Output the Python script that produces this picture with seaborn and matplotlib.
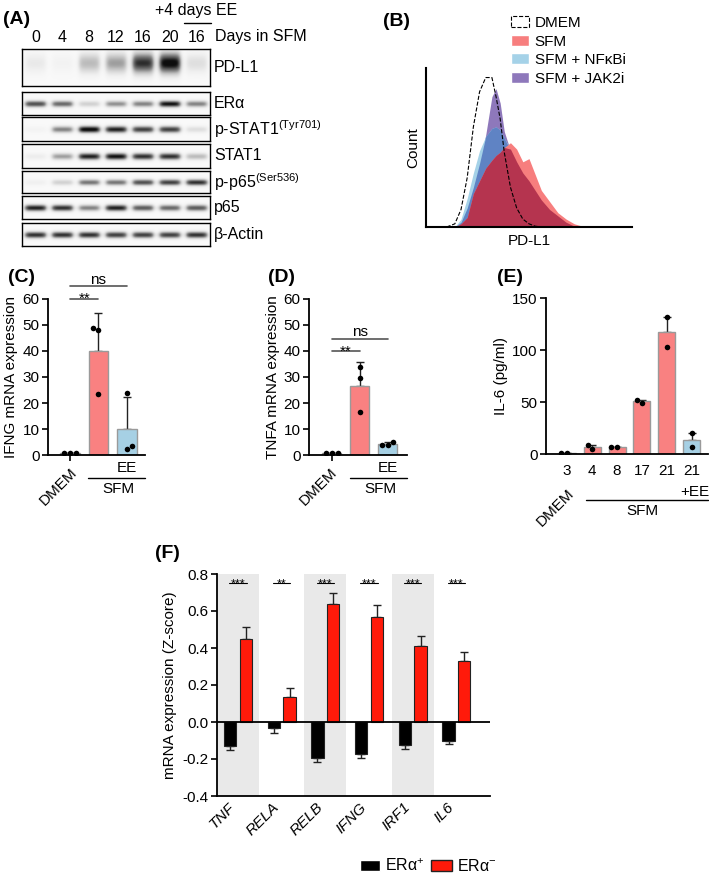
import numpy as np
import pandas as pd
import matplotlib
matplotlib.use("Agg")
import matplotlib.pyplot as plt
import seaborn as sns
from matplotlib.patches import Patch

sns.set_style("ticks")
plt.rcParams["font.family"] = ["Liberation Sans", "DejaVu Sans"]
plt.rcParams["mathtext.fontset"] = "custom"
plt.rcParams["mathtext.rm"] = "Liberation Sans"
plt.rcParams["mathtext.it"] = "Liberation Sans:italic"
plt.rcParams["mathtext.bf"] = "Liberation Sans:bold"
plt.rcParams["text.color"] = "black"
plt.rcParams["axes.labelcolor"] = "black"
plt.rcParams["xtick.color"] = "black"
plt.rcParams["ytick.color"] = "black"
plt.rcParams["axes.edgecolor"] = "black"

# (A) western blot: band darkness per lane (0 = none, 1 = black)
lane_labels = ["0", "4", "8", "12", "16", "20", "16"]
blot_names = ["PD-L1", "ERα", r"p-STAT1$^{\mathrm{(Tyr701)}}$", "STAT1",
              r"p-p65$^{\mathrm{(Ser536)}}$", "p65", "β-Actin"]
pdl1_band = [0.12, 0.06, 0.35, 0.45, 0.85, 1.0, 0.18]
era_band = [0.75, 0.65, 0.25, 0.5, 0.55, 0.95, 0.55]
pstat1_band = [0.05, 0.55, 1.0, 0.9, 0.8, 0.8, 0.18]
stat1_band = [0.1, 0.45, 0.9, 0.95, 0.85, 0.85, 0.35]
pp65_band = [0.08, 0.25, 0.6, 0.6, 0.75, 0.8, 0.85]
p65_band = [0.9, 0.85, 0.55, 0.9, 0.7, 0.65, 0.7]
actin_band = [0.85, 0.85, 0.85, 0.8, 0.8, 0.8, 0.85]

# (B) flow histograms, read on a common PD-L1 grid (relative count)
flow_x = [10, 14, 17, 20, 23, 26, 29, 32, 34, 36, 38, 41, 44, 47, 50, 53, 56, 60, 64, 68, 72, 76, 80]
flow_dmem = [0, 0.02, 0.11, 0.31, 0.63, 0.85, 0.94, 0.94, 0.82, 0.68, 0.47, 0.25, 0.12, 0.05, 0.02, 0.005, 0, 0, 0, 0, 0, 0, 0]
flow_jak2i = [0, 0, 0.03, 0.12, 0.25, 0.40, 0.58, 0.82, 0.87, 0.78, 0.60, 0.48, 0.40, 0.32, 0.25, 0.19, 0.14, 0.08, 0.04, 0.015, 0, 0, 0]
flow_nfkbi = [0, 0, 0.05, 0.18, 0.34, 0.48, 0.57, 0.62, 0.63, 0.61, 0.56, 0.49, 0.41, 0.34, 0.29, 0.23, 0.17, 0.11, 0.07, 0.03, 0.005, 0, 0]
flow_sfm = [0, 0, 0.02, 0.06, 0.21, 0.29, 0.37, 0.42, 0.45, 0.47, 0.50, 0.53, 0.49, 0.41, 0.43, 0.33, 0.23, 0.16, 0.09, 0.05, 0.02, 0.005, 0]

# (C) IFNG mRNA expression, replicate points
ifng_dmem = [0.8, 0.8, 0.8]
ifng_sfm = [49, 48, 23.5]
ifng_ee = [24, 2.5, 3.5]

# (D) TNFA mRNA expression
tnfa_dmem = [0.8, 0.8, 0.8]
tnfa_sfm = [34, 29.5, 16.5]
tnfa_ee = [5, 4, 4]

# (E) IL-6 (pg/ml)
il6_groups = ["DMEM 3", "SFM 4", "SFM 8", "SFM 17", "SFM 21", "EE 21"]
il6_ticks = ["3", "4", "8", "17", "21", "21"]
il6_values = [[0.5, 0.5], [5, 9], [7, 7], [49.5, 51.5], [132, 103], [20, 7]]

# (F) Z-score expression
genes = ["TNF", "RELA", "RELB", "IFNG", "IRF1", "IL6"]
erpos_mean = [-0.13, -0.035, -0.195, -0.175, -0.125, -0.10]
erpos_err = [0.02, 0.025, 0.02, 0.02, 0.02, 0.02]
erneg_mean = [0.45, 0.135, 0.64, 0.57, 0.41, 0.33]
erneg_err = [0.065, 0.05, 0.06, 0.06, 0.055, 0.05]
stars = ["***", "**", "***", "***", "***", "***"]

W, H = 709, 876
fig = plt.figure(figsize=(W / 100, H / 100), dpi=100)


def px_axes(x0, y0, x1, y1):
    return fig.add_axes([x0 / W, 1 - y1 / H, (x1 - x0) / W, (y1 - y0) / H])


def ftext(x, y, s, **kw):
    return fig.text(x / W, 1 - y / H, s, **kw)


def fline(x0, x1, y, **kw):
    fig.add_artist(plt.Line2D([x0 / W, x1 / W], [1 - y / H, 1 - y / H],
                              transform=fig.transFigure, **kw))


# ---------------- (A) ----------------
ftext(3, 19, "(A)", fontsize=14, fontweight="bold", va="center")
blot_rows = [(49, 86), (92, 115), (117, 141), (144, 168), (171, 193), (196, 219), (223, 246)]
blot_levels = [pdl1_band, era_band, pstat1_band, stat1_band, pp65_band, p65_band, actin_band]
bx0, bx1 = 22, 210
lane_w = (bx1 - bx0) / 7
for (y0, y1), levels, name in zip(blot_rows, blot_levels, blot_names):
    ax = px_axes(bx0, y0, bx1, y1)
    h, w = int((y1 - y0) * 4), 7 * 60
    yy = np.linspace(0, 1, h)[:, None]
    xx = np.arange(w)
    img = np.full((h, w), 0.05)
    for i, a in enumerate(levels):
        xc = (i + 0.5) * 60
        prof_x = 1 / (1 + np.exp((np.abs(xx - xc) - 23) / 3))
        if name == "PD-L1":
            prof_y = np.exp(-((yy - 0.38) / 0.27) ** 2)
        else:
            prof_y = np.exp(-((yy - 0.52) / 0.14) ** 2)
        img += a * prof_y * prof_x[None, :]
    ax.imshow(np.clip(img, 0, 1), cmap="Greys", vmin=0, vmax=1.05,
              aspect="auto", interpolation="bilinear")
    ax.set_xticks([])
    ax.set_yticks([])
    for s in ax.spines.values():
        s.set_linewidth(1.0)
    ftext(214, (y0 + y1) / 2, name, fontsize=11.5, va="center")

for i, lab in enumerate(lane_labels):
    ftext(bx0 + (i + 0.5) * lane_w, 37, lab, fontsize=11.5, ha="center", va="center")
ftext(215, 37, "Days in SFM", fontsize=11.5, va="center")
ftext(196, 11, "+4 days EE", fontsize=11.5, ha="center", va="center")
fline(184, 211, 23, color="black", lw=1)

# ---------------- (B) ----------------
ftext(383, 21, "(B)", fontsize=14, fontweight="bold", va="center")
c_red, c_blue, c_purple = "#f77e7e", "#a5d2e8", "#8e78bb"
ax_b = px_axes(426, 68, 632, 227)
fx = np.array(flow_x)
jak, nfk, sfm = np.array(flow_jak2i), np.array(flow_nfkbi), np.array(flow_sfm)
ax_b.fill_between(fx, jak, color=c_purple, lw=0)
ax_b.fill_between(fx, nfk, color=c_blue, lw=0)
ax_b.fill_between(fx, np.minimum(nfk, jak), color="#5f83c4", lw=0)
ax_b.fill_between(fx, sfm, color=c_red, lw=0)
ax_b.fill_between(fx, np.minimum(sfm, np.maximum(nfk, jak)), color="#b5344f", lw=0)
sns.lineplot(x=flow_x, y=flow_dmem, color="black", linestyle="--", lw=0.8, ax=ax_b)
ax_b.set_xlim(0, 100)
ax_b.set_ylim(0, 1)
ax_b.set_xticks([])
ax_b.set_yticks([])
sns.despine(ax=ax_b)
for s in ["left", "bottom"]:
    ax_b.spines[s].set_linewidth(1.5)
ax_b.set_xlabel("PD-L1", fontsize=11, labelpad=5)
ax_b.set_ylabel("Count", fontsize=11, labelpad=4)
fig.legend(handles=[Patch(facecolor="none", edgecolor="black", linestyle="--", lw=0.8),
                    Patch(facecolor=c_red), Patch(facecolor=c_blue), Patch(facecolor=c_purple)],
           labels=["DMEM", "SFM", "SFM + NFκBi", "SFM + JAK2i"],
           loc="upper left", bbox_to_anchor=(511 / W, 1 - 16 / H), frameon=False,
           fontsize=11, handlelength=1.15, handleheight=0.7, handletextpad=0.4,
           labelspacing=0.3, borderpad=0, borderaxespad=0)

# ---------------- (C), (D), (E) bar panels ----------------
c_sfm, c_ee, c_dm = "#f98181", "#a6d0e4", "#dcdcdc"


def bar_panel(ax, df, order, colors, err):
    sns.barplot(data=df, x="group", y="value", hue="group", order=order, hue_order=order,
                palette=colors, saturation=1, errorbar=None, width=0.68, edgecolor="#9a9a9a",
                linewidth=1, legend=False, ax=ax, zorder=2)
    st = df.groupby("group")["value"].agg(["mean", "std", "sem"]).reindex(order)
    ax.errorbar(np.arange(len(order)), st["mean"], yerr=[np.zeros(len(order)), st[err]],
                fmt="none", ecolor="#222222", elinewidth=1, capsize=3, capthick=1, zorder=1)
    sns.swarmplot(data=df, x="group", y="value", order=order, color="black", size=4,
                  ax=ax, zorder=3)
    sns.despine(ax=ax)
    for s in ["left", "bottom"]:
        ax.spines[s].set_linewidth(1.3)
    ax.set_xlabel("")
    ax.tick_params(axis="y", labelsize=11, length=4, width=1.2, pad=2)


def expr_panel(ax, dm, sf, ee, ylabel):
    df = pd.DataFrame({"group": ["DMEM"] * len(dm) + ["SFM"] * len(sf) + ["EE"] * len(ee),
                       "value": dm + sf + ee})
    bar_panel(ax, df, ["DMEM", "SFM", "EE"], [c_dm, c_sfm, c_ee], "std")
    ax.set_ylim(0, 60)
    ax.set_yticks(range(0, 61, 10))
    ax.set_xticks([0])
    ax.set_xticklabels([""])
    ax.tick_params(axis="x", length=4, width=1.2)
    ax.set_ylabel(ylabel, fontsize=11, labelpad=3)


def sig(ax, x0, x1, y, text, ty):
    ax.plot([x0, x1], [y, y], color="#555555", lw=1.2, clip_on=False)
    ax.text((x0 + x1) / 2, ty, text, ha="center", va="baseline", fontsize=11, clip_on=False)


ftext(8, 278, "(C)", fontsize=14, fontweight="bold", va="center")
ax_c = px_axes(48, 299, 145, 455)
expr_panel(ax_c, ifng_dmem, ifng_sfm, ifng_ee, "IFNG mRNA expression")
ax_c.set_xlim(-0.77, 2.63)
sig(ax_c, 0, 1, 60, "**", 58.5)
sig(ax_c, 0, 2, 65, "ns", 65.8)
ftext(80, 465, "DMEM", fontsize=11, rotation=45, ha="right", va="top")
ftext(127, 468, "EE", fontsize=11, ha="center", va="center")
fline(88, 145, 478, color="black", lw=1)
ftext(118, 489, "SFM", fontsize=11, ha="center", va="center")

ftext(268, 278, "(D)", fontsize=14, fontweight="bold", va="center")
ax_d = px_axes(309, 299, 407, 455)
expr_panel(ax_d, tnfa_dmem, tnfa_sfm, tnfa_ee, "TNFA mRNA expression")
ax_d.set_xlim(-0.82, 2.68)
sig(ax_d, 0, 1, 40, "**", 38.3)
sig(ax_d, 0, 2, 44.8, "ns", 45.6)
ftext(340, 465, "DMEM", fontsize=11, rotation=45, ha="right", va="top")
ftext(388, 468, "EE", fontsize=11, ha="center", va="center")
fline(350, 407, 478, color="black", lw=1)
ftext(380, 489, "SFM", fontsize=11, ha="center", va="center")

ftext(497, 277, "(E)", fontsize=14, fontweight="bold", va="center")
ax_e = px_axes(546, 298, 708, 454)
df_e = pd.DataFrame({"group": [g for g, v in zip(il6_groups, il6_values) for _ in v],
                     "value": [x for v in il6_values for x in v]})
bar_panel(ax_e, df_e, il6_groups, [c_dm, c_sfm, c_sfm, c_sfm, c_sfm, c_ee], "sem")
ax_e.set_xlim(-0.85, 5.65)
ax_e.set_ylim(0, 150)
ax_e.set_yticks([0, 50, 100, 150])
ax_e.set_xticks(range(6))
ax_e.set_xticklabels(il6_ticks, fontsize=11)
ax_e.tick_params(axis="x", length=0, pad=7)
ax_e.set_ylabel("IL-6 (pg/ml)", fontsize=11, labelpad=3)
ftext(577, 486, "DMEM", fontsize=11, rotation=45, ha="right", va="top")
ftext(695, 492, "+EE", fontsize=11, ha="center", va="center")
fline(586, 708, 500, color="black", lw=1)
ftext(642, 511, "SFM", fontsize=11, ha="center", va="center")

# ---------------- (F) ----------------
ftext(155, 553, "(F)", fontsize=14, fontweight="bold", va="center")
ax_f = px_axes(217, 574, 490, 796)
df_f = pd.DataFrame({"gene": genes * 2,
                     "status": ["pos"] * len(genes) + ["neg"] * len(genes),
                     "value": erpos_mean + erneg_mean})
for i in range(0, len(genes), 2):
    ax_f.axvspan(i - 0.48, i + 0.48, color="#e9e9e9", lw=0, zorder=0)
sns.barplot(data=df_f, x="gene", y="value", hue="status", order=genes,
            hue_order=["pos", "neg"], palette=["black", "#ff1a0a"], saturation=1,
            errorbar=None, width=0.72, gap=0.22, edgecolor="#222222", linewidth=0.8,
            legend=False, ax=ax_f, zorder=2)
xs = np.arange(len(genes))
ax_f.errorbar(xs - 0.18, erpos_mean, yerr=[erpos_err, np.zeros(len(genes))], fmt="none",
              ecolor="#222222", elinewidth=1, capsize=3, capthick=1, zorder=1)
ax_f.errorbar(xs + 0.18, erneg_mean, yerr=[np.zeros(len(genes)), erneg_err], fmt="none",
              ecolor="#222222", elinewidth=1, capsize=3, capthick=1, zorder=1)
for i, s in enumerate(stars):
    ax_f.plot([i - 0.2, i + 0.2], [0.75, 0.75], color="black", lw=0.8, zorder=3)
    ax_f.text(i, 0.728, s, ha="center", va="baseline", fontsize=9, zorder=3)
ax_f.axhline(0, color="black", lw=1.3, zorder=3)
ax_f.set_xlim(-0.48, 5.77)
ax_f.set_ylim(-0.4, 0.8)
ax_f.set_yticks(np.round(np.arange(-0.4, 0.81, 0.2), 1))
ax_f.set_yticklabels([f"{v:.1f}" for v in np.arange(-0.4, 0.81, 0.2)])
ax_f.set_xticks(xs)
ax_f.set_xticklabels(genes, rotation=45, ha="right", fontstyle="italic", fontsize=11)
ax_f.tick_params(axis="x", length=0, pad=3)
ax_f.tick_params(axis="y", labelsize=11, length=4, width=1.2, pad=2)
ax_f.set_xlabel("")
ax_f.set_ylabel("mRNA expression (Z-score)", fontsize=11, labelpad=4)
sns.despine(ax=ax_f)
for s in ["left", "bottom"]:
    ax_f.spines[s].set_linewidth(1.3)
fig.legend(handles=[Patch(facecolor="black"), Patch(facecolor="#ff1a0a", edgecolor="#222222")],
           labels=["ERα$^{+}$", "ERα$^{-}$"], ncol=2, loc="center",
           bbox_to_anchor=(428 / W, 1 - 866 / H), frameon=False, fontsize=11.5,
           handlelength=1.3, handleheight=0.7, handletextpad=0.3, columnspacing=0.4,
           borderpad=0)

fig.savefig("out.png", dpi=100)
